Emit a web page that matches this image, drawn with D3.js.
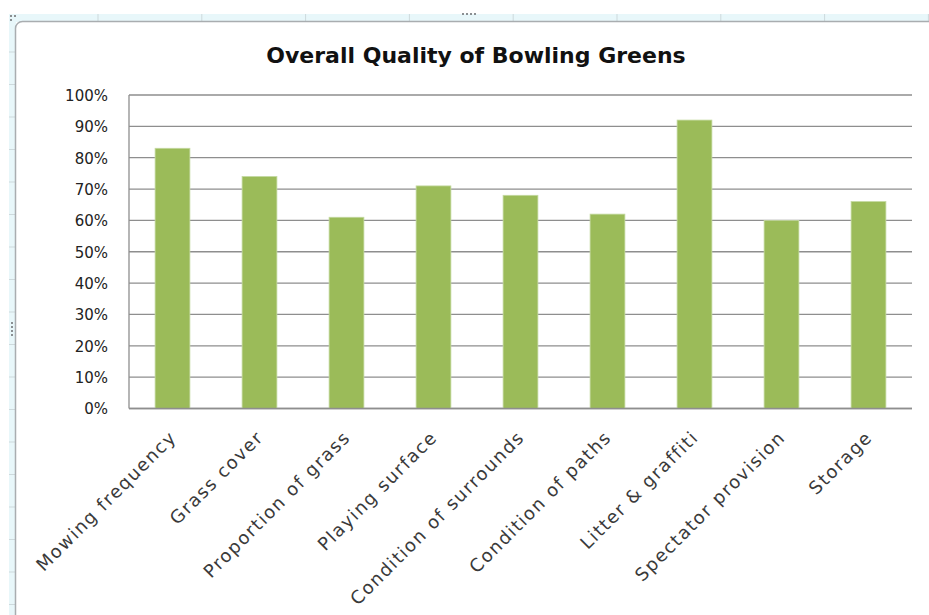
<!DOCTYPE html>
<html>
<head>
<meta charset="utf-8">
<script src="https://cdn.jsdelivr.net/npm/d3@7/dist/d3.min.js"></script>
<style>
  html, body { margin: 0; padding: 0; background: #ffffff; }
  svg { display: block; }
</style>
</head>
<body>
<svg id="chart" width="929" height="615"></svg>
<script>
// Survey categories and the share of greens rated good or better
const categories = [
  "Mowing frequency", "Grass cover", "Proportion of grass", "Playing surface",
  "Condition of surrounds", "Condition of paths", "Litter & graffiti",
  "Spectator provision", "Storage"
];
const qualityValues = [0.83, 0.74, 0.61, 0.71, 0.68, 0.62, 0.92, 0.60, 0.66];
const yTickValues = [0, 0.1, 0.2, 0.3, 0.4, 0.5, 0.6, 0.7, 0.8, 0.9, 1.0];
const chartTitle = "Overall Quality of Bowling Greens";

const svg = d3.select("#chart");
const W = 929, H = 615;

// ---- worksheet surround (column / row header strips) ----
const sheet = svg.append("g");
sheet.append("rect").attr("x", 9).attr("y", 14).attr("width", W - 9).attr("height", 8).attr("fill", "#e8f7fa");
sheet.append("rect").attr("x", 9).attr("y", 14).attr("width", 7).attr("height", H - 14).attr("fill", "#e8f7fa");
const colTicks = d3.range(98, W, 103.8);
sheet.selectAll("line.ct").data(colTicks).join("line")
  .attr("x1", d => d).attr("x2", d => d).attr("y1", 14).attr("y2", 21)
  .attr("stroke", "#cdd9dc").attr("stroke-width", 1);
const rowTicks = d3.range(52, H, 32.5);
sheet.selectAll("line.rt").data(rowTicks).join("line")
  .attr("x1", 9).attr("x2", 15).attr("y1", d => d).attr("y2", d => d)
  .attr("stroke", "#cdd9dc").attr("stroke-width", 1);
// resize handles
const handleDots = [[10, 15], [14, 15], [10, 19], [462, 13], [466, 13], [470, 13], [474, 13],
                    [11, 322], [11, 326], [11, 330], [11, 334]];
sheet.selectAll("rect.hd").data(handleDots).join("rect")
  .attr("x", d => d[0]).attr("y", d => d[1]).attr("width", 2).attr("height", 2)
  .attr("fill", "#8a8f92");

// chart frame with rounded corners
svg.append("rect")
  .attr("x", 15.5).attr("y", 21.5).attr("width", W + 10).attr("height", H + 10)
  .attr("rx", 7).attr("ry", 7)
  .attr("fill", "#ffffff").attr("stroke", "#a9adb0").attr("stroke-width", 1.5);

// ---- plot area ----
const plot = { left: 129, right: 912, top: 95, bottom: 408.5 };

const x = d3.scaleBand()
  .domain(categories)
  .range([plot.left, plot.right])
  .paddingInner(0.6)
  .paddingOuter(0.3);

const y = d3.scaleLinear()
  .domain([0, 1])
  .range([plot.bottom, plot.top]);

// horizontal gridlines
svg.append("g")
  .selectAll("line")
  .data(yTickValues)
  .join("line")
  .attr("x1", plot.left).attr("x2", plot.right)
  .attr("y1", d => y(d)).attr("y2", d => y(d))
  .attr("stroke", "#8e8e8e").attr("stroke-width", 1.3);

// left axis line
svg.append("line")
  .attr("x1", plot.left).attr("x2", plot.left)
  .attr("y1", plot.top).attr("y2", plot.bottom)
  .attr("stroke", "#8e8e8e").attr("stroke-width", 1.3);

// bars
svg.append("g")
  .selectAll("rect")
  .data(categories.map((c, i) => ({ c, v: qualityValues[i] })))
  .join("rect")
  .attr("x", d => x(d.c))
  .attr("width", x.bandwidth())
  .attr("y", d => y(d.v))
  .attr("height", d => y(0) - y(d.v))
  .attr("fill", "#9bbb59")
  .attr("stroke", "#c4d9a0")
  .attr("stroke-width", 0.8);

// baseline drawn over the bars
svg.append("line")
  .attr("x1", plot.left).attr("x2", plot.right)
  .attr("y1", plot.bottom).attr("y2", plot.bottom)
  .attr("stroke", "#8e8e8e").attr("stroke-width", 1.5);

// y axis labels
const yAxis = d3.axisLeft(y)
  .tickValues(yTickValues)
  .tickFormat(d3.format(".0%"))
  .tickSize(0)
  .tickPadding(21);
const yG = svg.append("g")
  .attr("transform", `translate(${plot.left},0)`)
  .call(yAxis);
yG.select(".domain").remove();
yG.selectAll("text")
  .attr("font-family", "'DejaVu Sans', Verdana, sans-serif")
  .attr("font-size", 15)
  .attr("fill", "#222222")
  .attr("dy", "0.36em");

// x axis labels, rotated
const xAxis = d3.axisBottom(x).tickSize(0).tickPadding(0);
const xG = svg.append("g")
  .attr("transform", `translate(0,${plot.bottom})`)
  .call(xAxis);
xG.select(".domain").remove();
xG.selectAll(".tick text")
  .attr("font-family", "'DejaVu Sans', Verdana, sans-serif")
  .attr("font-size", 18)
  .attr("letter-spacing", "1.5px")
  .attr("fill", "#3a3a3a")
  .attr("text-anchor", "end")
  .attr("y", 0)
  .attr("dy", 0)
  .attr("transform", "translate(5,30) rotate(-45)");

// title
svg.append("text")
  .attr("x", 476)
  .attr("y", 63)
  .attr("text-anchor", "middle")
  .attr("font-family", "'DejaVu Sans', Verdana, sans-serif")
  .attr("font-weight", "bold")
  .attr("font-size", 22)
  .attr("fill", "#111111")
  .text(chartTitle);
</script>
</body>
</html>
